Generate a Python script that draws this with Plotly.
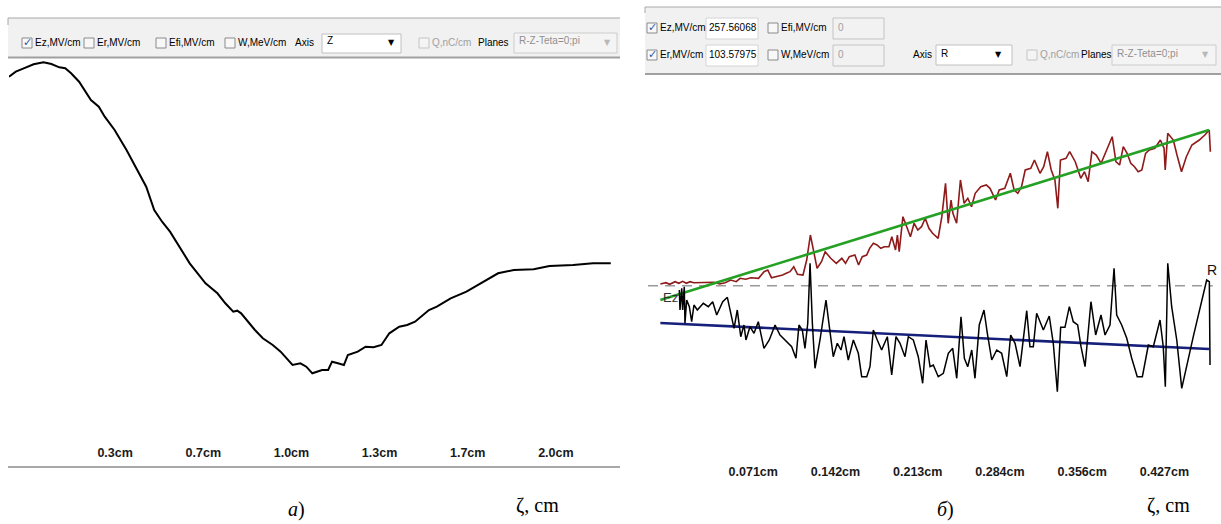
import plotly.graph_objects as go

W, H = 1221, 524

# ---------------- Panel a): Ez along axis Z ----------------
z_a_cm = [0.000, 0.0257, 0.0556, 0.0930, 0.1305, 0.1604, 0.1902, 0.2126, 0.2349, 0.2651,
          0.3098, 0.3396, 0.3620, 0.3994, 0.4444, 0.4818, 0.5189, 0.5492, 0.5790, 0.6089,
          0.6536, 0.6834, 0.7133, 0.7432, 0.7882, 0.8181, 0.8480, 0.8631, 0.8778, 0.9077,
          0.9300, 0.9599, 0.9974, 1.0272, 1.0571, 1.0722, 1.1021, 1.1244, 1.1471, 1.1619,
          1.1842, 1.2069, 1.2216, 1.2439, 1.2666, 1.2814, 1.3188, 1.3487, 1.3786, 1.4085,
          1.4383, 1.4758, 1.5057, 1.5356, 1.5881, 1.6180, 1.6702, 1.7300, 1.7821, 1.8048,
          1.8495, 1.9092, 1.9841, 2.0439, 2.1335, 2.2084, 2.2757]
ez_a = [188.3, 193.3, 196.7, 200.7, 202.7, 201.0, 197.7, 196.7, 191.7, 183.3,
        165.0, 158.3, 148.3, 135.0, 115.0, 96.7, 78.3, 55.0, 43.3, 33.3,
        15.0, 1.7, -8.3, -18.3, -28.3, -38.3, -46.7, -45.7, -48.3, -58.3,
        -65.0, -73.3, -80.0, -86.7, -95.0, -100.0, -98.3, -101.7, -108.3, -106.7,
        -105.0, -105.0, -96.7, -98.3, -100.0, -90.0, -86.7, -81.7, -82.3, -80.0,
        -68.3, -61.7, -60.0, -56.7, -45.0, -41.7, -33.3, -26.7, -18.3, -15.0,
        -8.3, -5.0, -4.3, -1.0, 0.0, 1.7, 1.7]
a_tick_vals = [1/3, 2/3, 1.0, 4/3, 5/3, 2.0]
a_tick_text = ["0.3cm", "0.7cm", "1.0cm", "1.3cm", "1.7cm", "2.0cm"]

# ---------------- Panel b): Er and Ez along axis R ----------------
r_er = [0.0107, 0.0155, 0.0187, 0.0235, 0.0267, 0.0300, 0.0332, 0.0364, 0.0396, 0.0444,
        0.0572, 0.0620, 0.0668, 0.0716, 0.0764, 0.0797, 0.0845, 0.0893, 0.0957, 0.1005,
        0.1037, 0.1069, 0.1117, 0.1165, 0.1197, 0.1229, 0.1262, 0.1294, 0.1342, 0.1374,
        0.1406, 0.1431, 0.1464, 0.1502, 0.1534, 0.1582, 0.1630, 0.1678, 0.1710, 0.1743,
        0.1791, 0.1823, 0.1855, 0.1893, 0.1919, 0.1951, 0.1983, 0.2015, 0.2047, 0.2086,
        0.2111, 0.2143, 0.2159, 0.2175, 0.2207, 0.2240, 0.2272, 0.2304, 0.2336, 0.2368,
        0.2400, 0.2432, 0.2464, 0.2512, 0.2544, 0.2576, 0.2599, 0.2624, 0.2640, 0.2672,
        0.2705, 0.2737, 0.2769, 0.2801, 0.2833, 0.2881, 0.2929, 0.2961, 0.3009, 0.3041,
        0.3089, 0.3137, 0.3170, 0.3202, 0.3234, 0.3266, 0.3314, 0.3346, 0.3394, 0.3426,
        0.3458, 0.3491, 0.3523, 0.3548, 0.3571, 0.3619, 0.3651, 0.3699, 0.3747, 0.3779,
        0.3811, 0.3843, 0.3881, 0.3923, 0.3971, 0.4019, 0.4051, 0.4083, 0.4115, 0.4148,
        0.4180, 0.4212, 0.4244, 0.4276, 0.4308, 0.4340, 0.4388, 0.4436, 0.4468, 0.4478,
        0.4500, 0.4548, 0.4580, 0.4619, 0.4661, 0.4709, 0.4773, 0.4821, 0.4859, 0.4869]
er_b = [1.7, 3.0, 1.4, 4.0, 2.4, 4.4, 2.4, 4.0, 3.0, 3.0,
        3.4, 1.7, 3.0, 5.7, 4.0, 7.4, 6.4, 8.0, 7.4, 14.0,
        15.7, 8.0, 9.0, 10.7, 12.4, 14.0, 19.0, 11.4, 10.7, 25.7,
        50.7, 35.7, 17.4, 24.0, 34.0, 27.4, 22.4, 27.4, 22.4, 29.0,
        30.7, 20.7, 29.0, 30.7, 37.4, 42.4, 40.7, 37.4, 39.0, 39.0,
        49.0, 35.7, 50.7, 34.0, 69.0, 59.0, 49.0, 62.4, 55.7, 59.0,
        67.4, 57.4, 52.4, 47.4, 69.0, 102.4, 62.4, 85.7, 72.4, 62.4,
        105.7, 82.4, 87.4, 79.0, 92.4, 99.0, 100.7, 97.4, 85.7, 95.7,
        97.4, 112.4, 95.7, 92.4, 99.0, 115.7, 117.4, 125.7, 112.4, 119.0,
        134.0, 115.7, 105.7, 77.4, 125.7, 127.4, 134.0, 124.0, 107.4, 114.0,
        104.0, 134.0, 130.7, 122.4, 135.7, 149.0, 124.0, 120.7, 139.0, 132.4,
        122.4, 119.0, 114.0, 115.7, 132.4, 135.7, 137.4, 145.7, 137.4, 115.7,
        152.4, 145.7, 130.7, 114.0, 129.0, 140.7, 145.7, 150.7, 155.7, 134.0]

r_ez = [0.0271, 0.0277, 0.0292, 0.0300, 0.0314, 0.0320, 0.0335, 0.0358, 0.0378, 0.0398,
        0.0427, 0.0479, 0.0522, 0.0560, 0.0595, 0.0647, 0.0687, 0.0716, 0.0745, 0.0773,
        0.0803, 0.0831, 0.0848, 0.0883, 0.0918, 0.0955, 0.1004, 0.1050, 0.1100, 0.1143,
        0.1201, 0.1244, 0.1281, 0.1307, 0.1336, 0.1359, 0.1383, 0.1403, 0.1423, 0.1446,
        0.1489, 0.1541, 0.1570, 0.1604, 0.1639, 0.1671, 0.1697, 0.1734, 0.1778, 0.1821,
        0.1850, 0.1894, 0.1922, 0.1951, 0.1985, 0.2023, 0.2072, 0.2110, 0.2147, 0.2182,
        0.2225, 0.2254, 0.2297, 0.2340, 0.2378, 0.2407, 0.2442, 0.2470, 0.2513, 0.2557,
        0.2600, 0.2638, 0.2673, 0.2710, 0.2739, 0.2768, 0.2803, 0.2831, 0.2868, 0.2909,
        0.2938, 0.2976, 0.3019, 0.3062, 0.3106, 0.3140, 0.3178, 0.3221, 0.3279, 0.3307,
        0.3336, 0.3365, 0.3423, 0.3474, 0.3509, 0.3544, 0.3573, 0.3610, 0.3648, 0.3682,
        0.3720, 0.3749, 0.3784, 0.3835, 0.3876, 0.3922, 0.3957, 0.4000, 0.4035, 0.4058,
        0.4101, 0.4145, 0.4188, 0.4236, 0.4280, 0.4332, 0.4375, 0.4433, 0.4461, 0.4479,
        0.4500, 0.4534, 0.4578, 0.4621, 0.4721, 0.4837, 0.4860, 0.4866]
ez_b = [-4.3, -24.3, -2.6, -24.3, -1.0, -37.6, -14.3, -21.0, -36.0, -19.3,
        -24.3, -17.6, -21.0, -16.0, -29.3, -16.0, -11.6, -27.6, -42.6, -24.3,
        -51.0, -39.3, -54.3, -41.0, -47.6, -36.0, -62.6, -54.3, -39.3, -49.3,
        -56.0, -61.0, -72.6, -39.3, -44.3, -62.6, -37.6, 22.4, -37.6, -82.6,
        -54.3, -14.3, -41.0, -71.0, -57.6, -64.3, -51.0, -74.3, -54.3, -67.6,
        -91.0, -91.0, -81.0, -44.3, -54.3, -64.3, -51.0, -89.3, -51.0, -57.6,
        -71.0, -51.0, -54.3, -71.0, -97.6, -54.3, -81.0, -79.3, -91.0, -87.6,
        -67.6, -62.6, -92.6, -31.0, -72.6, -81.0, -64.3, -92.6, -39.3, -24.3,
        -47.6, -74.3, -64.3, -67.6, -91.0, -49.3, -57.6, -81.0, -25.0, -61.0,
        -61.0, -27.6, -44.3, -30.3, -57.6, -106.0, -41.6, -41.6, -21.0, -36.0,
        -39.3, -61.0, -81.0, -16.0, -49.3, -29.3, -49.3, -39.3, 17.4, -29.3,
        -39.3, -52.6, -72.6, -91.0, -91.0, -59.3, -61.0, -34.3, -61.0, -101.0,
        22.4, -21.0, -54.3, -102.6, -51.0, 5.7, 4.0, -79.3]

r_fit = [0.0107, 0.4857]
er_fit = [-14.3, 155.7]
ez_fit = [-37.3, -63.3]
r_zero = [0.0, 0.489]
zero_line = [0.0, 0.0]

b_tick_vals = [0.0712, 0.1424, 0.2136, 0.2848, 0.3560, 0.4272]
b_tick_text = ["0.071cm", "0.142cm", "0.213cm", "0.284cm", "0.356cm", "0.427cm"]

# ---------------- figure ----------------
UI_FONT = "Liberation Sans, Arial, sans-serif"
TICK_FONT = dict(family="Liberation Sans, Arial, sans-serif", size=12.5, color="#1a1a1a",
                 weight="bold")

fig = go.Figure()
fig.add_trace(go.Scatter(x=z_a_cm, y=ez_a, mode="lines", line=dict(color="#000000", width=2),
                         xaxis="x", yaxis="y", hoverinfo="skip"))
fig.add_trace(go.Scatter(x=r_zero, y=zero_line, mode="lines",
                         line=dict(color="#9a9a9a", width=1.5, dash="10px,7px"),
                         xaxis="x2", yaxis="y2", hoverinfo="skip"))
fig.add_trace(go.Scatter(x=r_er, y=er_b, mode="lines", line=dict(color="#8e1a1a", width=1.6),
                         xaxis="x2", yaxis="y2", hoverinfo="skip"))
fig.add_trace(go.Scatter(x=r_fit, y=er_fit, mode="lines", line=dict(color="#24a024", width=2.6),
                         xaxis="x2", yaxis="y2", hoverinfo="skip"))
fig.add_trace(go.Scatter(x=r_fit, y=ez_fit, mode="lines", line=dict(color="#16207a", width=2.6),
                         xaxis="x2", yaxis="y2", hoverinfo="skip"))
fig.add_trace(go.Scatter(x=r_ez, y=ez_b, mode="lines", line=dict(color="#000000", width=1.5),
                         xaxis="x2", yaxis="y2", hoverinfo="skip"))

shapes = []
annotations = []


def fx(p):
    return p / W


def fy(p):
    return 1 - p / H


def rect(x0, y0, x1, y1, line="#b0b0b0", fill="#ffffff", width=1):
    shapes.append(dict(type="rect", xref="paper", yref="paper", x0=fx(x0), x1=fx(x1),
                       y0=fy(y1), y1=fy(y0), line=dict(color=line, width=width), fillcolor=fill))


def hline(x0, x1, y, color="#a0a0a0", width=1):
    shapes.append(dict(type="line", xref="paper", yref="paper", x0=fx(x0), x1=fx(x1),
                       y0=fy(y), y1=fy(y), line=dict(color=color, width=width)))


def vline(x, y0, y1, color="#a0a0a0", width=1):
    shapes.append(dict(type="line", xref="paper", yref="paper", x0=fx(x), x1=fx(x),
                       y0=fy(y0), y1=fy(y1), line=dict(color=color, width=width)))


def text(x, y, s, size=10, color="#000000", anchor="left", family=UI_FONT):
    annotations.append(dict(xref="paper", yref="paper", x=fx(x), y=fy(y), text=s, showarrow=False,
                            xanchor=anchor, yanchor="middle",
                            font=dict(family=family, size=size, color=color)))


def checkbox(x, yc, checked=False, enabled=True):
    if enabled:
        rect(x, yc - 5, x + 10, yc + 5, line="#8a8a8a", fill="#f8f8f8")
    else:
        rect(x, yc - 5, x + 10, yc + 5, line="#c4c4c4", fill="#f4f4f4")
    if checked:
        text(x + 5, yc, "✓", size=11, color="#2b58a8", anchor="center", family="DejaVu Sans")


# ----- left toolbar -----
rect(8, 18, 620, 57, line="rgba(0,0,0,0)", fill="#f1f1f1")
hline(8, 620, 18, color="#a8a8a8")
vline(8, 18, 25, color="#a8a8a8")
hline(8, 620, 57.5, color="#a0a0a0", width=2)
row = 43
checkbox(22, row, checked=True)
text(33, row, "Ez,MV/cm")
checkbox(84, row)
text(95, row, "Er,MV/cm")
checkbox(156, row)
text(167, row, "Efi,MV/cm")
checkbox(225, row)
text(236, row, "W,MeV/cm")
text(293, row, "Axis")
rect(322, 34, 401, 53, line="#c0c0c0", fill="#ffffff")
text(325, row - 2, "Z")
text(391, row, "▼", size=8, anchor="center", family="DejaVu Sans")
checkbox(419, row, enabled=False)
text(430, row, "Q,nC/cm", color="#a0a0a0")
text(476, row, "Planes")
rect(514, 33, 617, 53, line="#cccccc", fill="#f4f4f4")
text(517, row - 2, "R-Z-Teta=0;pi", color="#909090")
text(607, row, "▼", size=8, color="#b8b8b8", anchor="center", family="DejaVu Sans")

# ----- right toolbar -----
rect(645, 7, 1221, 74, line="rgba(0,0,0,0)", fill="#f1f1f1")
hline(645, 1221, 7, color="#a8a8a8")
vline(645, 7, 13, color="#a8a8a8")
hline(645, 1221, 74, color="#a0a0a0", width=2)
r1, r2 = 28, 55
checkbox(647, r1, checked=True)
text(658, r1, "Ez,MV/cm")
rect(706, 18, 758, 39, line="#d4d4d4", fill="#ffffff")
text(707, r1, "257.56068")
checkbox(768, r1)
text(779, r1, "Efi,MV/cm")
rect(833, 18, 884, 39, line="#c4c4c4", fill="#f2f2f2")
text(836, r1, "0", color="#a0a0a0")

checkbox(647, r2, checked=True)
text(658, r2, "Er,MV/cm")
rect(706, 45, 758, 66, line="#d4d4d4", fill="#ffffff")
text(707, r2, "103.57975")
checkbox(768, r2)
text(779, r2, "W,MeV/cm")
rect(833, 45, 884, 66, line="#c4c4c4", fill="#f2f2f2")
text(836, r2, "0", color="#a0a0a0")
text(911, r2, "Axis")
rect(936, 45, 1012, 65, line="#c0c0c0", fill="#ffffff")
text(939, r2 - 2, "R")
text(998, r2, "▼", size=8, anchor="center", family="DejaVu Sans")
checkbox(1027, r2, enabled=False)
text(1038, r2, "Q,nC/cm", color="#a0a0a0")
text(1079, r2, "Planes")
rect(1112, 45, 1216, 65, line="#cccccc", fill="#f4f4f4")
text(1115, r2 - 2, "R-Z-Teta=0;pi", color="#909090")
text(1205, r2, "▼", size=8, color="#b8b8b8", anchor="center", family="DejaVu Sans")

# bottom border of the left chart
hline(8, 620, 467, color="#a8a8a8", width=2)

# in-chart labels (right panel)
text(661, 297, "Ez", size=13, color="#333333")
text(1212, 270, "R", size=14, color="#111111", anchor="center")

# captions under the panels
SERIF = "Liberation Serif, Times New Roman, serif"
text(296, 509, "<i>а</i>)", size=20, anchor="center", family=SERIF)
text(537, 505, "ζ, cm", size=20, anchor="center", family=SERIF)
text(945, 509, "<i>б</i>)", size=20, anchor="center", family=SERIF)
text(1168, 505, "ζ, cm", size=20, anchor="center", family=SERIF)

common_x = dict(showgrid=False, zeroline=False, showline=False, ticks="", fixedrange=True,
                tickfont=TICK_FONT)

fig.update_layout(
    width=W, height=H,
    margin=dict(l=0, r=0, t=0, b=0),
    paper_bgcolor="#ffffff",
    plot_bgcolor="rgba(0,0,0,0)",
    showlegend=False,
    xaxis=dict(domain=[9 / W, 626 / W], range=[0, 7 / 3], anchor="y",
               tickvals=a_tick_vals, ticktext=a_tick_text, ticklabelshift=18, **common_x),
    yaxis=dict(domain=[1 - 443 / H, 1 - 58 / H], range=[-178, 207], visible=False, fixedrange=True),
    xaxis2=dict(domain=[648 / W, 1.0], range=[0, 0.4961], anchor="y2",
                tickvals=b_tick_vals, ticktext=b_tick_text, ticklabelshift=23, **common_x),
    yaxis2=dict(domain=[1 - 462 / H, 1 - 78 / H], range=[-176.3, 207.7], visible=False,
                fixedrange=True),
    shapes=shapes,
    annotations=annotations,
)

fig.write_html(
    "out.html",
    config={"displayModeBar": False},
    post_script="document.body.style.margin='0px';document.body.style.padding='0px';"
                "document.body.style.overflow='hidden';",
)
